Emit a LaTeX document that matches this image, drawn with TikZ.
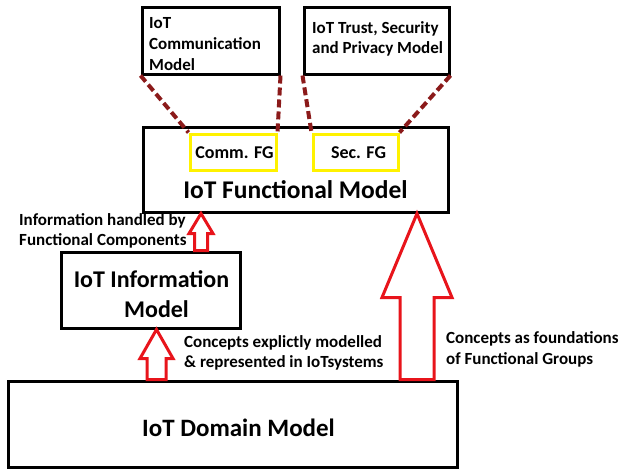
\documentclass[tikz,border=0pt]{standalone}
\usepackage{fontspec}
\setmainfont{Carlito}
\usetikzlibrary{calc}
\definecolor{arrred}{HTML}{E8141B}
\definecolor{fgyellow}{HTML}{FFF200}
\definecolor{maroon}{HTML}{8B1A1A}
\tikzset{
  box/.style={draw=black, line width=3pt, fill=white, inner sep=0pt},
  fgbox/.style={draw=fgyellow, line width=3pt, fill=white, inner sep=0pt},
  link/.style={draw=maroon, line width=4pt, dash pattern=on 8pt off 4pt},
  redarrow/.style={draw=arrred, line width=3pt, fill=white, line join=miter},
  txt/.style={inner sep=0pt, font=\bfseries},
}
% tip, base, head half-width, shaft half-width, head length
\newcommand\blockarr[5]{%
  \draw[redarrow] let \p1=(#1), \p2=(#2) in
    (\x1,\y1) -- (\x1+#3pt,\y1-#5pt) -- (\x1+#4pt,\y1-#5pt) -- (\x1+#4pt,\y2)
    -- (\x1-#4pt,\y2) -- (\x1-#4pt,\y1-#5pt) -- (\x1-#3pt,\y1-#5pt) -- cycle;}
\begin{document}
\begin{tikzpicture}[x=1pt,y=-1pt]
\useasboundingbox[fill=white] (0,0) rectangle (620,469);

% boxes
\node[box, minimum width=137pt, minimum height=67pt] (comm) at (210.5,40.5) {};
\node[box, minimum width=145pt, minimum height=67pt] (sec) at (376.5,40.5) {};
\node[box, minimum width=305pt, minimum height=85pt] (func) at (295.5,169.5) {};
\node[fgbox, minimum width=86pt, minimum height=36pt] (commfg) at (233,152) {};
\node[fgbox, minimum width=85pt, minimum height=36pt] (secfg) at (355.5,152) {};
\node[box, minimum width=179pt, minimum height=76pt] (info) at (150.5,290) {};
\node[box, minimum width=449pt, minimum height=86pt] (dom) at (232.5,424) {};

% dashed links
\draw[link] (comm.south west) -- (commfg.north west);
\draw[link] (comm.south east) -- (commfg.north east);
\draw[link] (sec.south west) -- (secfg.north west);
\draw[link] (sec.south east) -- (secfg.north east);

% texts in boxes (base anchor = last line)
\node[txt, anchor=base west, align=left, font=\bfseries\fontsize{17}{21}\selectfont] (commt) at (149,70) {IoT\\Communication\\Model};
\node[txt, anchor=base west, align=left, font=\bfseries\fontsize{17}{20}\selectfont] (sect) at (312,53) {IoT Trust, Security\\and Privacy Model};
\node[txt, anchor=base, font=\bfseries\fontsize{18}{22}\selectfont] (commfgt) at (234.5,158) {Comm. FG};
\node[txt, anchor=base, font=\bfseries\fontsize{18}{22}\selectfont] (secfgt) at (358.5,158) {Sec. FG};
\node[txt, anchor=base, font=\bfseries\fontsize{25.5}{30}\selectfont] (funct) at (295.5,198) {IoT Functional Model};
\node[txt, anchor=base, align=center, font=\bfseries\fontsize{24}{30}\selectfont] (infot) at (151.5,317) {IoT Information\\\hspace*{10pt}Model};
\node[txt, anchor=base, font=\bfseries\fontsize{25}{30}\selectfont] (domt) at (238.5,436) {IoT Domain Model};

% block arrows
\coordinate (a1t) at (201,0 |- func.south);
\coordinate (a1b) at (201,0 |- info.north);
\blockarr{a1t}{a1b}{12}{6.5}{20}
\coordinate (a2t) at (156.5,0 |- info.south);
\coordinate (a2b) at (156.5,0 |- dom.north);
\blockarr{a2t}{a2b}{16.5}{9.5}{29}
\coordinate (a3t) at (417,0 |- func.south);
\coordinate (a3b) at (417,0 |- dom.north);
\blockarr{a3t}{a3b}{35}{17}{84}

% arrow labels
\node[txt, anchor=base west, align=left, font=\bfseries\fontsize{17}{20}\selectfont] (l1) at (19,245) {Information handled by\\Functional Components};
\node[txt, anchor=base west, align=left, font=\bfseries\fontsize{17}{20}\selectfont] (l2) at (184,367) {Concepts explictly modelled\\\& represented in IoTsystems};
\node[txt, anchor=base west, align=left, font=\bfseries\fontsize{17}{21}\selectfont] (l3) at (446,364) {Concepts as foundations\\of Functional Groups};
\end{tikzpicture}
\end{document}
